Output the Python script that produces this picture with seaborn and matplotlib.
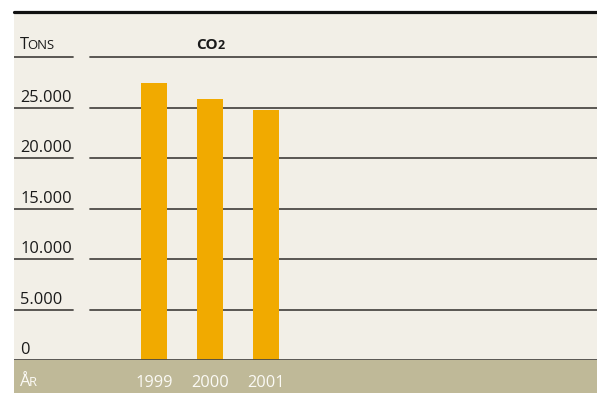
import matplotlib
matplotlib.use("Agg")
import matplotlib.pyplot as plt
import matplotlib.transforms as mtransforms
import seaborn as sns
import pandas as pd

years = ["1999", "2000", "2001"]
co2_tons = [27400, 25900, 24800]
ytick_values = [0, 5000, 10000, 15000, 20000, 25000]
ytick_labels = ["0", "5.000", "10.000", "15.000", "20.000", "25.000"]
title = "CO"
title_sub = "2"
unit_big, unit_small = "T", "ONS"
xlab_big, xlab_small = "Å", "R"

sns.set_theme(style="white")
plt.rcParams["font.family"] = ["Open Sans", "DejaVu Sans"]

W, H = 597, 393
fig = plt.figure(figsize=(W / 100, H / 100), dpi=100, facecolor="white")

BEIGE = "#f2efe7"
STRIP = "#bfb998"
ORANGE = "#f1aa00"
GRID = "#4d4b47"
TEXT = "#1a1a1a"
WHITE = "#fbfaf5"
FS = 11.8

left_px, right_px, top_px, base_px, strip_px = 14, 597, 12, 360, 393
strip = fig.add_axes([left_px / W, 0, (right_px - left_px) / W, (strip_px - base_px) / H])
strip.set_facecolor(STRIP)
strip.set_xticks([]); strip.set_yticks([])
for s in strip.spines.values():
    s.set_visible(False)
strip.set_zorder(1)

ax = fig.add_axes([left_px / W, (H - base_px) / H,
                   (right_px - left_px) / W, (base_px - top_px) / H])
ax.set_facecolor(BEIGE)
ax.set_zorder(2)

df = pd.DataFrame({"year": years, "tons": co2_tons})
sns.barplot(data=df, x="year", y="tons", color=ORANGE, saturation=1,
            width=0.464, ax=ax, zorder=3, edgecolor="none")

ax.set_xlim(-2.5, 7.91)
ax.set_ylim(0, 34480)
for s in ax.spines.values():
    s.set_visible(False)
ax.set_xlabel(""); ax.set_ylabel("")
ax.set_yticks([])

# year labels sit in the strip below the plot area
ax.tick_params(axis="x", length=0, pad=10.5, labelsize=FS, labelcolor=WHITE)

# split gridlines with a gap next to the value column
gap_l = (73 - left_px) / (right_px - left_px)
gap_r = (90 - left_px) / (right_px - left_px)
for v in ytick_values[1:] + [30000]:
    ax.axhline(v, xmin=0, xmax=gap_l, color=GRID, lw=1.3, zorder=1)
    ax.axhline(v, xmin=gap_r, xmax=1, color=GRID, lw=1.3, zorder=1)
ax.axhline(0, color=GRID, lw=1.3, zorder=4)

lab_x = (20 - left_px) / (right_px - left_px)
trans = mtransforms.blended_transform_factory(ax.transAxes, ax.transData)
for v, t in zip(ytick_values, ytick_labels):
    ax.text(lab_x, v + 560, t, transform=trans, ha="left", va="baseline",
            fontsize=FS, color=TEXT)

fig.canvas.draw()
renderer = fig.canvas.get_renderer()


def small_caps(axis, x, y, big, small, transform, color, size):
    t1 = axis.text(x, y, big, transform=transform, ha="left", va="baseline",
                   fontsize=size, color=color)
    bb = t1.get_window_extent(renderer)
    off = mtransforms.offset_copy(transform, fig=fig, x=bb.width - 1.5, units="dots")
    axis.text(x, y, small, transform=off, ha="left", va="baseline",
              fontsize=size * 0.8, color=color)


small_caps(ax, lab_x, 30000 + 800, unit_big, unit_small, trans, TEXT, FS)

# bold title, centred over the middle bar
t_co = ax.text(1, 30000 + 800, title, ha="left", va="baseline",
               fontsize=11, fontweight="bold", color=TEXT)
t_two = ax.text(1, 30000 + 800, title_sub, ha="left", va="baseline",
                fontsize=9, fontweight="bold", color=TEXT)
w_co = t_co.get_window_extent(renderer).width
w_two = t_two.get_window_extent(renderer).width
total = w_co + w_two
t_co.set_transform(mtransforms.offset_copy(ax.transData, fig=fig, x=-total / 2, units="dots"))
t_two.set_transform(mtransforms.offset_copy(ax.transData, fig=fig, x=-total / 2 + w_co, units="dots"))

small_caps(strip, lab_x, 0.2, xlab_big, xlab_small, strip.transAxes, WHITE, FS)

# heavy rule across the top
fig.add_artist(plt.Line2D([left_px / W, 1], [(H - 11.5) / H] * 2,
                          color="#111111", lw=2.3, transform=fig.transFigure,
                          zorder=10))

fig.savefig("out.png", dpi=100, facecolor="white")
